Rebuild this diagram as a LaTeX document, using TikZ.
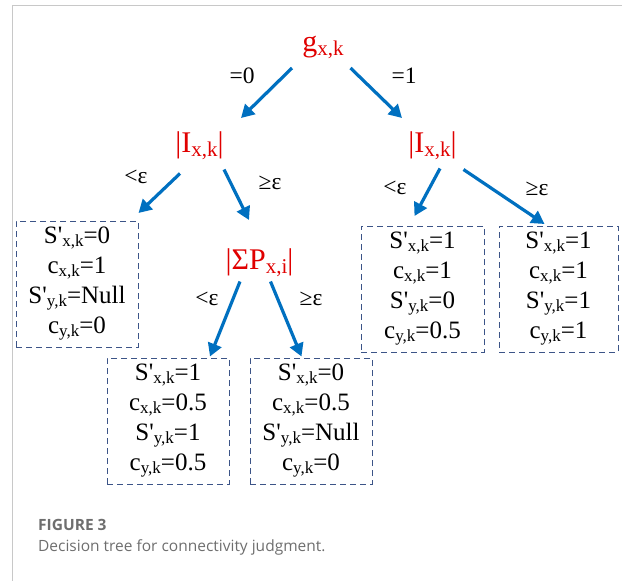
\documentclass[tikz,border=0pt]{standalone}
\usepackage{fontspec}
\setmainfont{Liberation Serif}[Ligatures=TeXOff]
\newfontfamily\capfont{Open Sans}
\usetikzlibrary{arrows.meta}
\definecolor{arrblue}{HTML}{0070C0}
\definecolor{boxblue}{RGB}{60,84,135}
\definecolor{redlab}{HTML}{E00000}
\definecolor{framegray}{RGB}{200,200,200}
\definecolor{capgray}{RGB}{110,110,110}
\newcommand\lsb[1]{\raisebox{-3pt}{\fontsize{17}{17}\selectfont #1}}
\newcommand\rsb[1]{\raisebox{-4pt}{\fontsize{21}{21}\selectfont #1}}
\begin{document}
\begin{tikzpicture}[x=1pt,y=-1pt,
  redlab/.style={text=redlab,font=\fontsize{30}{30}\selectfont,inner sep=0pt,anchor=base},
  edgelab/.style={font=\fontsize{23.5}{23.5}\selectfont,inner sep=0pt,anchor=base},
  leafbox/.style={draw=boxblue,dashed,dash pattern=on 6pt off 4pt,line width=1pt,
     align=center,inner sep=0pt,font=\fontsize{25}{30}\selectfont,
     minimum width=122pt,minimum height=126pt},
  arr/.style={draw=arrblue,line width=3.2pt,-{Triangle[length=13pt,width=14pt]}}]
\useasboundingbox (0,0) rectangle (622,581);
% frame
\draw[framegray,line width=1.2pt] (12.5,581) -- (12.5,5.5) -- (622,5.5);
% decision nodes
\node[redlab] (g) at (323,51) {g\rsb{x,k}};
\node[redlab] (il) at (199.5,152) {|I\rsb{x,k}|};
\node[redlab] (ir) at (432.5,152) {|I\rsb{x,k}|};
\node[redlab] (sp) at (259.5,269) {|ΣP\rsb{x,i}|};
% leaf boxes
\node[leafbox] (l1) at (77,284) {S'\lsb{x,k}=0\\c\lsb{x,k}=1\\S'\lsb{y,k}=Null\\c\lsb{y,k}=0};
\node[leafbox,minimum width=123pt] (r1) at (422.5,289) {S'\lsb{x,k}=1\\c\lsb{x,k}=1\\S'\lsb{y,k}=0\\c\lsb{y,k}=0.5};
\node[leafbox,minimum width=119pt] (r2) at (558.5,289) {S'\lsb{x,k}=1\\c\lsb{x,k}=1\\S'\lsb{y,k}=1\\c\lsb{y,k}=1};
\node[leafbox] (b1) at (168,421) {S'\lsb{x,k}=1\\c\lsb{x,k}=0.5\\S'\lsb{y,k}=1\\c\lsb{y,k}=0.5};
\node[leafbox] (b2) at (311,421) {S'\lsb{x,k}=0\\c\lsb{x,k}=0.5\\S'\lsb{y,k}=Null\\c\lsb{y,k}=0};
% arrow end points
\coordinate (gs1) at (292,68);    \coordinate (ile) at (241,118);
\coordinate (gs2) at (350.5,68);  \coordinate (ire) at (402,118);
\coordinate (ils1) at (180,173.5); \coordinate (l1e) at (138.5,213);
\coordinate (ils2) at (224,169.5); \coordinate (spe) at (249,220);
\coordinate (irs1) at (440,168.5); \coordinate (r1e) at (414.5,216);
\coordinate (irs2) at (463.5,169.5); \coordinate (r2e) at (544.5,224);
\coordinate (sps1) at (240,281.5); \coordinate (b1e) at (210,356.5);
\coordinate (sps2) at (270.5,281.5); \coordinate (b2e) at (301.5,356.5);
\draw[arr] (gs1) -- (ile);
\draw[arr] (gs2) -- (ire);
\draw[arr] (ils1) -- (l1e);
\draw[arr] (ils2) -- (spe);
\draw[arr] (irs1) -- (r1e);
\draw[arr] (irs2) -- (r2e);
\draw[arr] (sps1) -- (b1e);
\draw[arr] (sps2) -- (b2e);
% edge labels
\node[edgelab] (e1) at (242,83) {=0};
\node[edgelab] (e2) at (404,83) {=1};
\node[edgelab] (e3) at (136,183) {<ε};
\node[edgelab] (e4) at (270,189) {≥ε};
\node[edgelab] (e5) at (395,194) {<ε};
\node[edgelab] (e6) at (537,195) {≥ε};
\node[edgelab] (e7) at (207,305) {<ε};
\node[edgelab] (e8) at (311,305) {≥ε};
% caption
\node[anchor=base west,inner sep=0pt,text=capgray,font=\capfont\fontsize{15.5}{17}\selectfont\bfseries] (cap1) at (38,530) {FIGURE 3};
\node[anchor=base west,inner sep=0pt,text=capgray,font=\capfont\fontsize{15.5}{17}\selectfont] (cap2) at (38,551) {Decision tree for connectivity judgment.};
\end{tikzpicture}
\end{document}
